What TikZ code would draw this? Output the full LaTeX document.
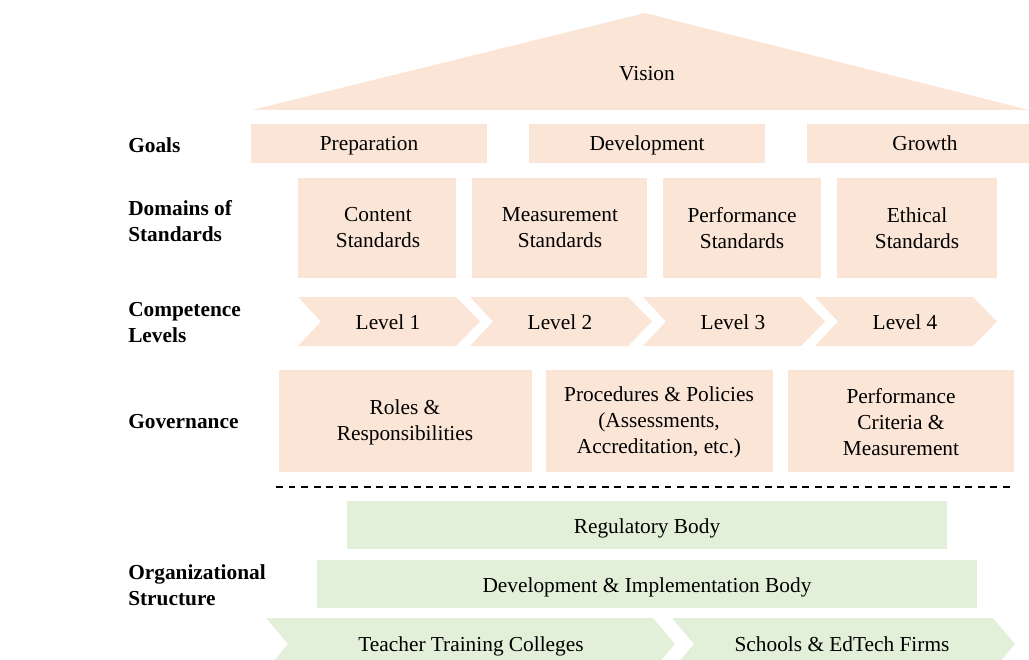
\documentclass[tikz,border=0pt]{standalone}
\usepackage{fontspec}
\setmainfont{Liberation Serif}
\usepackage{tikz}
\usetikzlibrary{positioning}

\definecolor{peach}{HTML}{FBE5D6}
\definecolor{mint}{HTML}{E2F0D9}

\tikzset{
  txt/.style={font=\fontsize{16}{19.5}\selectfont, align=center, inner sep=0pt},
  oneline/.style={txt, text height=12pt, text depth=1.5pt},
  lbl/.style={font=\fontsize{16}{19.5}\selectfont\bfseries, align=left, anchor=west, inner sep=0pt}
}

\begin{document}
\begin{tikzpicture}[x=0.75pt,y=-0.75pt]
\useasboundingbox (0,0) rectangle (1029,660);
\clip (0,0) rectangle (1029,660);

% roof
\fill[peach] (252,110) -- (645,13) -- (1029,110) -- cycle;
\node[oneline] (vision) at (647,74) {Vision};

% goals
\node[lbl] (goals) at (128,145) {Goals};
\fill[peach] (251,124) rectangle (487,163);
\node[oneline] (prep) at (369,144) {Preparation};
\fill[peach] (529,124) rectangle (765,163);
\node[oneline] (dev) at (647,144) {Development};
\fill[peach] (807,124) rectangle (1043,163);
\node[oneline] (growth) at (925,144) {Growth};

% domains
\node[lbl] (domains) at (128,221) {Domains of\\Standards};
\fill[peach] (298,178) rectangle (456,278);
\node[txt] (content) at (378,228) {Content\\Standards};
\fill[peach] (472,178) rectangle (647,278);
\node[txt] (measure) at (560,228) {Measurement\\Standards};
\fill[peach] (663,178) rectangle (821,278);
\node[txt] (perform) at (742,228) {Performance\\Standards};
\fill[peach] (837,178) rectangle (997,278);
\node[txt] (ethical) at (917,228) {Ethical\\Standards};

% competence levels
\node[lbl] (levels) at (128,323) {Competence\\Levels};
\foreach \i/\x in {1/298,2/470,3/643,4/815}{
  \fill[peach] (\x,297) -- (\x+158,297) -- (\x+182,321.5) -- (\x+158,346)
    -- (\x,346) -- (\x+23,321.5) -- cycle;
  \node[oneline] (level\i) at (\x+90,322) {Level \i};
}

% governance
\node[lbl] (gov) at (128,422) {Governance};
\fill[peach] (279,370) rectangle (532,472);
\node[txt] (roles) at (405,422) {Roles \&\\Responsibilities};
\fill[peach] (546,370) rectangle (773,472);
\node[txt] (proc) at (659,422) {Procedures \& Policies\\(Assessments,\\Accreditation, etc.)};
\fill[peach] (788,370) rectangle (1014,472);
\node[txt] (crit) at (901,422) {Performance\\Criteria \&\\Measurement};

\coordinate (dashL) at (276,487);
\coordinate (dashR) at (1014,487);
\draw[dash pattern=on 5.2pt off 4.2pt, line width=1.1pt] (dashL) -- (dashR);

% organizational structure
\node[lbl] (org) at (128,585) {Organizational\\Structure};
\fill[mint] (347,501) rectangle (947,549);
\node[oneline] (reg) at (647,526) {Regulatory Body};
\fill[mint] (317,560) rectangle (977,608);
\node[oneline] (impl) at (647,585) {Development \& Implementation Body};
\fill[mint] (266,618) -- (653,618) -- (675,644) -- (653,670) -- (266,670) -- (288,644) -- cycle;
\node[oneline] (colleges) at (471,644) {Teacher Training Colleges};
\fill[mint] (672,618) -- (993,618) -- (1015,644) -- (993,670) -- (672,670) -- (694,644) -- cycle;
\node[oneline] (schools) at (842,644) {Schools \& EdTech Firms};
\end{tikzpicture}
\end{document}
